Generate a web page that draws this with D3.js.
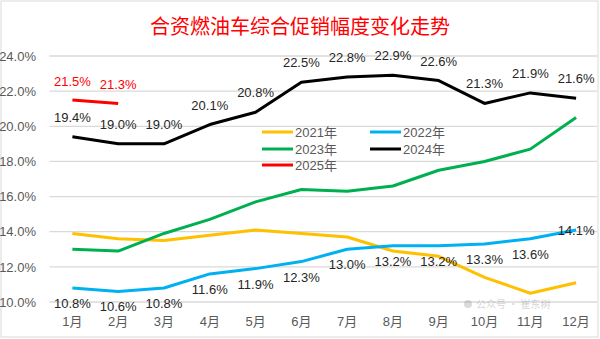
<!DOCTYPE html>
<html><head><meta charset="utf-8">
<script src="https://cdn.jsdelivr.net/npm/d3@7"></script>
<style>body{margin:0;background:#fff}svg{display:block}</style>
</head><body>
<svg id="c" width="600" height="339"></svg>
<script>
const months = ["1月","2月","3月","4月","5月","6月","7月","8月","9月","10月","11月","12月"];
const s2021 = [13.9,13.6,13.5,13.8,14.1,13.9,13.7,12.9,12.6,11.4,10.5,11.1];
const s2022 = [10.8,10.6,10.8,11.6,11.9,12.3,13.0,13.2,13.2,13.3,13.6,14.1];
const s2023 = [13.0,12.9,13.9,14.7,15.7,16.4,16.3,16.6,17.5,18.0,18.7,20.5];
const s2024 = [19.4,19.0,19.0,20.1,20.8,22.5,22.8,22.9,22.6,21.3,21.9,21.6];
const s2025 = [21.5,21.3];
const yTicks = [10,12,14,16,18,20,22,24];
const seriesNames = ["2021年","2022年","2023年","2024年","2025年"];
const colors = ["#ffc000","#00b0f0","#00b050","#000000","#ff0000"];
const title = "合资燃油车综合促销幅度变化走势";

const svg = d3.select("#c");
const font = "'Liberation Sans', Arial, 'Noto Sans CJK SC', sans-serif";
svg.append("rect").attr("x",1).attr("y",1).attr("width",597).attr("height",336)
  .attr("fill","#fff").attr("stroke","#d9d9d9").attr("stroke-width",1);

const x = d3.scaleBand().domain(months).range([49.5,599]);
const y = d3.scaleLinear().domain([10,24]).range([302,56]);
const cx = m => x(m) + x.bandwidth()/2;

// gridlines
svg.append("g").selectAll("line").data(yTicks).join("line")
  .attr("x1",49.5).attr("x2",597).attr("y1",d=>y(d)).attr("y2",d=>y(d))
  .attr("stroke","#d9d9d9").attr("stroke-width",1.3);

// y axis
const ya = svg.append("g").attr("transform","translate(42,0)")
  .call(d3.axisLeft(y).tickValues(yTicks).tickSize(0).tickPadding(6).tickFormat(d=>d.toFixed(1)+"%"));
ya.select(".domain").remove();
ya.selectAll("text").attr("font-family",font).attr("font-size",13).attr("fill","#595959");

// x axis
const xa = svg.append("g").attr("transform","translate(0,314)")
  .call(d3.axisBottom(x).tickSize(0).tickPadding(3));
xa.select(".domain").remove();
xa.selectAll("text").attr("font-family",font).attr("font-size",13).attr("fill","#595959");

// title
svg.append("text").attr("x",300).attr("y",34).attr("text-anchor","middle")
  .attr("font-family","'Noto Sans CJK SC', sans-serif").attr("font-size",20)
  .attr("fill","#ff0000").text(title);

// watermark (faint)
const wm = svg.append("g").attr("opacity",0.3);
wm.append("circle").attr("cx",468).attr("cy",304).attr("r",4).attr("fill","#888");
wm.append("text").attr("x",476).attr("y",308).attr("font-family","'Noto Sans CJK SC', sans-serif")
  .attr("font-size",10).attr("fill","#777").text("公众号 · 崔东树");

const line = d3.line().x((d,i)=>cx(months[i])).y(d=>y(d));
const data = [s2021,s2022,s2023,s2024,s2025];
data.forEach((s,k)=>{
  svg.append("path").datum(s).attr("d",line).attr("fill","none")
    .attr("stroke",colors[k]).attr("stroke-width",3).attr("stroke-linejoin","round");
});

// labels
function labels(s, dy, color, lastDy){
  svg.append("g").selectAll("text").data(s).join("text")
    .attr("x",(d,i)=>cx(months[i])).attr("y",(d,i)=>y(d)+((lastDy!==undefined && i===s.length-1)?lastDy:dy))
    .attr("text-anchor","middle").attr("font-family",font).attr("font-size",13)
    .attr("fill",color).text(d=>d.toFixed(1)+"%");
}
labels(s2024,-15,"#262626");
labels(s2025,-14,"#ff0000");
labels(s2022,20,"#262626",5);

// legend
const leg = [[0,262,132],[1,370,132],[2,262,149],[3,370,149],[4,262,165]];
leg.forEach(([k,lx,ly])=>{
  svg.append("line").attr("x1",lx).attr("x2",lx+31).attr("y1",ly).attr("y2",ly)
    .attr("stroke",colors[k]).attr("stroke-width",3);
  svg.append("text").attr("x",lx+33).attr("y",ly+5).attr("font-family",font)
    .attr("font-size",13).attr("fill","#595959").text(seriesNames[k]);
});
</script>
</body></html>
